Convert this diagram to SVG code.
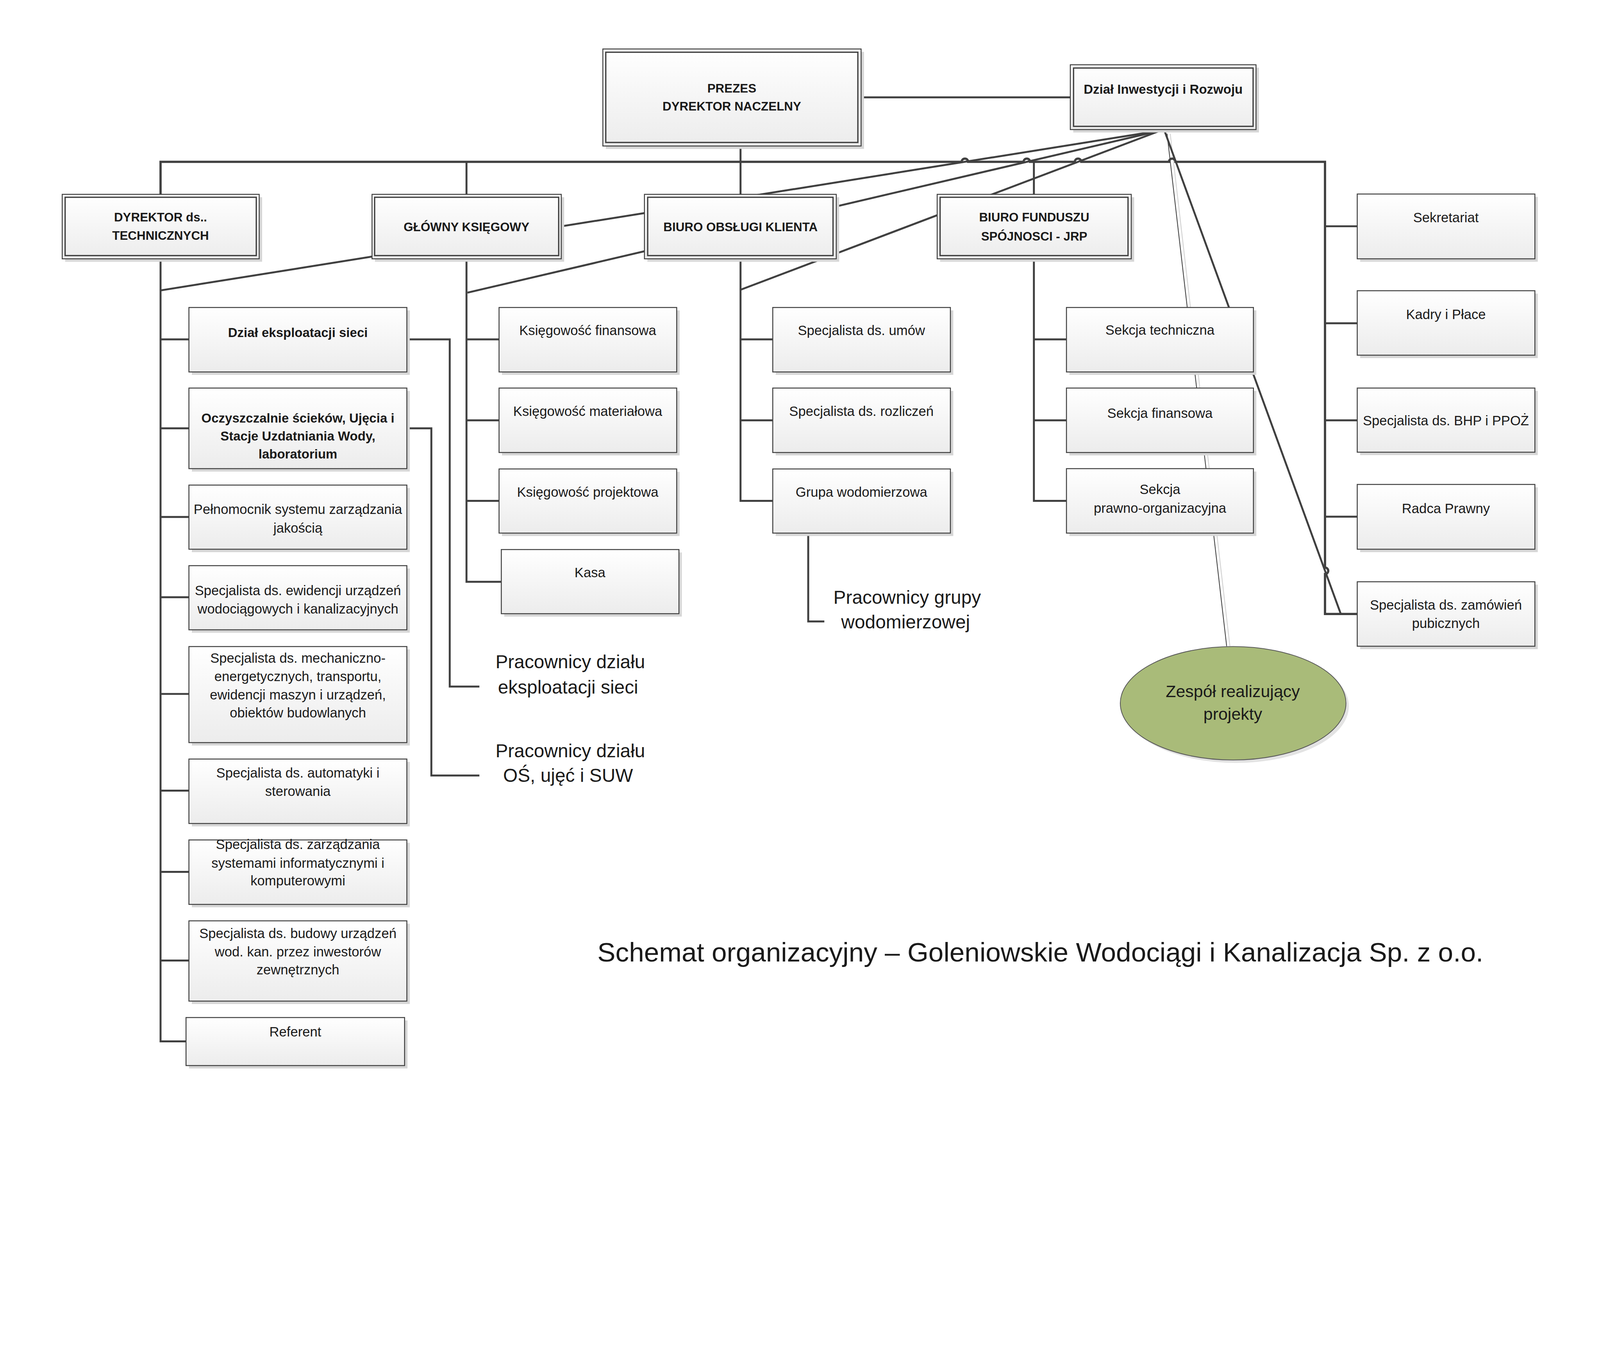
<svg xmlns="http://www.w3.org/2000/svg" width="4963" height="3508" viewBox="0 0 4963 3508" preserveAspectRatio="xMinYMin meet">
<defs>
<linearGradient id="g" x1="0" y1="0" x2="0" y2="1">
<stop offset="0" stop-color="#ffffff"/>
<stop offset="1" stop-color="#ececec"/>
</linearGradient>
<style>
svg{max-width:100vw;max-height:100vh}
.box{fill:url(#g);stroke:#404040;stroke-width:3}
.in{fill:none;stroke:#404040;stroke-width:4}
.sh{fill:#d6d6d6}
.c{fill:none;stroke:#404040;stroke-width:6}
.bus{fill:none;stroke:#404040;stroke-width:7}
.thin{fill:none;stroke:#404040;stroke-width:2.5}
.thinsh{fill:none;stroke:#cfcfcf;stroke-width:2.5}
.t{font-family:"Liberation Sans",Arial,sans-serif;font-size:42px;fill:#1a1a1a;text-anchor:middle}
.b{font-weight:bold;font-size:38px}
.bl{font-weight:bold;font-size:40px}
.big{font-size:58px}
.title{font-size:84px}
.ell{fill:#a9bb79;stroke:#5a5a5a;stroke-width:2.5}
</style>
</defs>
<rect width="4963" height="3508" fill="#ffffff"/>

<g id="connectors">
<path class="thinsh" d="M3630 415 L3815 2005"/>
<path class="thin" d="M3620 415 L3805 2005"/>
<path class="c" d="M3600 405 L498 901"/>
<path class="c" d="M3600 405 L1450 908"/>
<path class="c" d="M3600 405 L2297 899"/>
<path class="c" d="M3613 408 L4159 1905"/>
<path class="c" d="M2671 302 H3320"/>
<path class="bus" d="M498 603 V502 H2983 a10 10 0 0 1 20 0 H3175 a10 10 0 0 1 20 0 H3334 a10 10 0 0 1 20 0 H3626 a10 10 0 0 1 20 0 H4110 V1761 a10 10 0 0 1 0 20 V1905 H4210"/>
<path class="c" d="M1447 502 V603 M2297 453 V603 M3207 502 V603"/>
<path class="c" d="M4110 702 H4210 M4110 1003 H4210 M4110 1304 H4210 M4110 1603 H4210"/>
<path class="c" d="M498 803 V3231 H577 M498 1053 H586 M498 1329 H586 M498 1604 H586 M498 1853 H586 M498 2153 H586 M498 2453 H586 M498 2705 H586 M498 2980 H586"/>
<path class="c" d="M1262 1053 H1395 V2130 H1487 M1262 1329 H1338 V2406 H1487"/>
<path class="c" d="M1447 803 V1805 H1555 M1447 1053 H1548 M1447 1304 H1548 M1447 1554 H1548"/>
<path class="c" d="M2297 803 V1554 H2397 M2297 1053 H2397 M2297 1304 H2397"/>
<path class="c" d="M2507 1654 V1928 H2557"/>
<path class="c" d="M3207 803 V1554 H3308 M3207 1053 H3308 M3207 1304 H3308"/>
</g>

<g id="prezes">
<rect class="sh" x="1879" y="161" width="801" height="301"/>
<rect class="box" x="1870" y="152" width="801" height="301"/>
<rect class="in" x="1879" y="162" width="782" height="280"/>
<text class="t b" x="2270" y="287">PREZES</text>
<text class="t b" x="2270" y="343">DYREKTOR NACZELNY</text>
</g>
<g id="dzial-inwestycji">
<rect class="sh" x="3329" y="210" width="576" height="201"/>
<rect class="box" x="3320" y="201" width="576" height="201"/>
<rect class="in" x="3330" y="211" width="557" height="181"/>
<text class="t bl" x="3608" y="291">Dział Inwestycji i Rozwoju</text>
</g>
<g id="dyrektor-tech">
<rect class="sh" x="202" y="612" width="611" height="200"/>
<rect class="box" x="193" y="603" width="611" height="200"/>
<rect class="in" x="202" y="612" width="593" height="181"/>
<text class="t b" x="498" y="687">DYREKTOR ds..</text>
<text class="t b" x="498" y="744">TECHNICZNYCH</text>
</g>
<g id="glowny-ksiegowy">
<rect class="sh" x="1163" y="612" width="587" height="200"/>
<rect class="box" x="1154" y="603" width="587" height="200"/>
<rect class="in" x="1162" y="612" width="571" height="181"/>
<text class="t b" x="1447" y="717">GŁÓWNY KSIĘGOWY</text>
</g>
<g id="biuro-obslugi">
<rect class="sh" x="2008" y="612" width="595" height="200"/>
<rect class="box" x="1999" y="603" width="595" height="200"/>
<rect class="in" x="2009" y="612" width="575" height="181"/>
<text class="t b" x="2297" y="717">BIURO OBSŁUGI KLIENTA</text>
</g>
<g id="biuro-funduszu">
<rect class="sh" x="2916" y="612" width="602" height="200"/>
<rect class="box" x="2907" y="603" width="602" height="200"/>
<rect class="in" x="2916" y="612" width="583" height="181"/>
<text class="t b" x="3208" y="687">BIURO FUNDUSZU</text>
<text class="t b" x="3208" y="746">SPÓJNOSCI - JRP</text>
</g>

<g id="dzial-eksploatacji">
<rect class="sh" x="595" y="963" width="676" height="200"/>
<rect class="box" x="586" y="954" width="676" height="200"/>
<text class="t bl" x="924" y="1046">Dział eksploatacji sieci</text>
</g>
<g id="oczyszczalnie">
<rect class="sh" x="595" y="1213" width="676" height="250"/>
<rect class="box" x="586" y="1204" width="676" height="250"/>
<text class="t bl" x="924" y="1311">Oczyszczalnie ścieków, Ujęcia i</text>
<text class="t bl" x="924" y="1367">Stacje Uzdatniania Wody,</text>
<text class="t bl" x="924" y="1423">laboratorium</text>
</g>
<g id="pelnomocnik">
<rect class="sh" x="595" y="1514" width="676" height="199"/>
<rect class="box" x="586" y="1505" width="676" height="199"/>
<text class="t" x="924" y="1595">Pełnomocnik systemu zarządzania</text>
<text class="t" x="924" y="1653">jakością</text>
</g>
<g id="ewidencja">
<rect class="sh" x="595" y="1764" width="676" height="199"/>
<rect class="box" x="586" y="1755" width="676" height="199"/>
<text class="t" x="924" y="1847">Specjalista ds. ewidencji urządzeń</text>
<text class="t" x="924" y="1904">wodociągowych i kanalizacyjnych</text>
</g>
<g id="mechaniczno">
<rect class="sh" x="595" y="2015" width="676" height="298"/>
<rect class="box" x="586" y="2006" width="676" height="298"/>
<text class="t" x="924" y="2056">Specjalista ds. mechaniczno-</text>
<text class="t" x="924" y="2113">energetycznych, transportu,</text>
<text class="t" x="924" y="2170">ewidencji maszyn i urządzeń,</text>
<text class="t" x="924" y="2226">obiektów budowlanych</text>
</g>
<g id="automatyka">
<rect class="sh" x="595" y="2364" width="676" height="200"/>
<rect class="box" x="586" y="2355" width="676" height="200"/>
<text class="t" x="924" y="2413">Specjalista ds. automatyki i</text>
<text class="t" x="924" y="2469">sterowania</text>
</g>
<g id="informatyka">
<rect class="sh" x="595" y="2615" width="676" height="200"/>
<rect class="box" x="586" y="2606" width="676" height="200"/>
<text class="t" x="924" y="2634">Specjalista ds. zarządzania</text>
<text class="t" x="924" y="2692">systemami informatycznymi i</text>
<text class="t" x="924" y="2747">komputerowymi</text>
</g>
<g id="budowa">
<rect class="sh" x="595" y="2866" width="676" height="249"/>
<rect class="box" x="586" y="2857" width="676" height="249"/>
<text class="t" x="924" y="2911">Specjalista ds. budowy urządzeń</text>
<text class="t" x="924" y="2967">wod. kan. przez inwestorów</text>
<text class="t" x="924" y="3023">zewnętrznych</text>
</g>
<g id="referent">
<rect class="sh" x="586" y="3166" width="678" height="149"/>
<rect class="box" x="577" y="3157" width="678" height="149"/>
<text class="t" x="916" y="3216">Referent</text>
</g>

<g id="ksiegowosc-finansowa">
<rect class="sh" x="1557" y="963" width="551" height="200"/>
<rect class="box" x="1548" y="954" width="551" height="200"/>
<text class="t" x="1823" y="1040">Księgowość finansowa</text>
</g>
<g id="ksiegowosc-materialowa">
<rect class="sh" x="1557" y="1213" width="551" height="200"/>
<rect class="box" x="1548" y="1204" width="551" height="200"/>
<text class="t" x="1823" y="1290">Księgowość materiałowa</text>
</g>
<g id="ksiegowosc-projektowa">
<rect class="sh" x="1557" y="1464" width="551" height="199"/>
<rect class="box" x="1548" y="1455" width="551" height="199"/>
<text class="t" x="1823" y="1541">Księgowość projektowa</text>
</g>
<g id="kasa">
<rect class="sh" x="1564" y="1714" width="551" height="199"/>
<rect class="box" x="1555" y="1705" width="551" height="199"/>
<text class="t" x="1830" y="1791">Kasa</text>
</g>

<g id="spec-umow">
<rect class="sh" x="2406" y="963" width="551" height="200"/>
<rect class="box" x="2397" y="954" width="551" height="200"/>
<text class="t" x="2672" y="1040">Specjalista ds. umów</text>
</g>
<g id="spec-rozliczen">
<rect class="sh" x="2406" y="1213" width="551" height="200"/>
<rect class="box" x="2397" y="1204" width="551" height="200"/>
<text class="t" x="2672" y="1290">Specjalista ds. rozliczeń</text>
</g>
<g id="grupa-wodomierzowa">
<rect class="sh" x="2406" y="1464" width="551" height="199"/>
<rect class="box" x="2397" y="1455" width="551" height="199"/>
<text class="t" x="2672" y="1541">Grupa wodomierzowa</text>
</g>

<g id="sekcja-techniczna">
<rect class="sh" x="3317" y="963" width="580" height="200"/>
<rect class="box" x="3308" y="954" width="580" height="200"/>
<text class="t" x="3598" y="1039">Sekcja techniczna</text>
</g>
<g id="sekcja-finansowa">
<rect class="sh" x="3317" y="1213" width="580" height="200"/>
<rect class="box" x="3308" y="1204" width="580" height="200"/>
<text class="t" x="3598" y="1296">Sekcja finansowa</text>
</g>
<g id="sekcja-prawno">
<rect class="sh" x="3317" y="1463" width="580" height="200"/>
<rect class="box" x="3308" y="1454" width="580" height="200"/>
<text class="t" x="3598" y="1533">Sekcja</text>
<text class="t" x="3598" y="1591">prawno-organizacyjna</text>
</g>

<g id="sekretariat">
<rect class="sh" x="4219" y="611" width="551" height="201"/>
<rect class="box" x="4210" y="602" width="551" height="201"/>
<text class="t" x="4485" y="689">Sekretariat</text>
</g>
<g id="kadry">
<rect class="sh" x="4219" y="911" width="551" height="200"/>
<rect class="box" x="4210" y="902" width="551" height="200"/>
<text class="t" x="4485" y="990">Kadry i Płace</text>
</g>
<g id="bhp">
<rect class="sh" x="4219" y="1213" width="551" height="199"/>
<rect class="box" x="4210" y="1204" width="551" height="199"/>
<text class="t" x="4485" y="1319">Specjalista ds. BHP i PPOŻ</text>
</g>
<g id="radca">
<rect class="sh" x="4219" y="1512" width="551" height="201"/>
<rect class="box" x="4210" y="1503" width="551" height="201"/>
<text class="t" x="4485" y="1592">Radca Prawny</text>
</g>
<g id="zamowienia">
<rect class="sh" x="4219" y="1814" width="551" height="200"/>
<rect class="box" x="4210" y="1805" width="551" height="200"/>
<text class="t" x="4485" y="1891">Specjalista ds. zamówień</text>
<text class="t" x="4485" y="1948">pubicznych</text>
</g>

<g id="zespol">
<ellipse cx="3834" cy="2191" rx="350" ry="176" fill="#e3e3e3"/>
<ellipse class="ell" cx="3825" cy="2182" rx="350" ry="176"/>
<text class="t" style="font-size:52px" x="3824" y="2163">Zespół realizujący</text>
<text class="t" style="font-size:52px" x="3824" y="2233">projekty</text>
</g>

<g id="pracownicy-eksploatacji">
<text class="t big" x="1769" y="2073">Pracownicy działu</text>
<text class="t big" x="1762" y="2152">eksploatacji sieci</text>
</g>
<g id="pracownicy-os">
<text class="t big" x="1769" y="2350">Pracownicy działu</text>
<text class="t big" x="1762" y="2426">OŚ, ujęć i SUW</text>
</g>
<g id="pracownicy-grupy">
<text class="t big" x="2814" y="1873">Pracownicy grupy</text>
<text class="t big" x="2809" y="1949">wodomierzowej</text>
</g>

<text class="t title" x="3227" y="2983">Schemat organizacyjny – Goleniowskie Wodociągi i Kanalizacja Sp. z o.o.</text>
</svg>
